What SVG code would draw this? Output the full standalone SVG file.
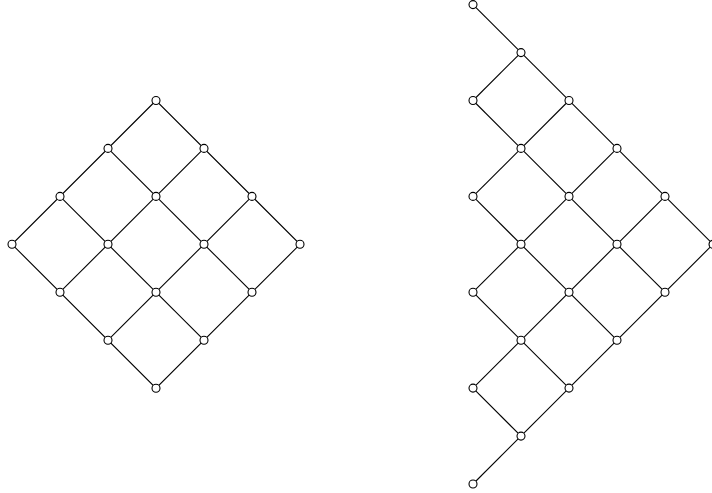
<svg xmlns="http://www.w3.org/2000/svg" width="712" height="493" viewBox="0 0 712 493">
<style>
.e{stroke:#000;stroke-width:1.1;fill:none}
.n{fill:#fff;stroke:#000;stroke-width:1.1}
</style>
<rect width="712" height="493" fill="#fff"/>
<g id="connectors" class="e">
<!-- left lattice -->
<path d="M156,100.5 L12,244.3 L156,388.2 L300,244.3 Z"/>
<path d="M204,148.4 L60,292.2"/>
<path d="M252,196.4 L108,340.2"/>
<path d="M108,148.4 L252,292.2"/>
<path d="M60,196.4 L204,340.2"/>
<!-- right lattice: down-right lines -->
<path d="M473,4.6 L713,244.3"/>
<path d="M473,100.5 L665,292.2"/>
<path d="M473,196.4 L617,340.2"/>
<path d="M473,292.2 L569,388.1"/>
<path d="M473,388.1 L521,436.1"/>
<!-- right lattice: down-left lines -->
<path d="M521,52.6 L473,100.5"/>
<path d="M569,100.5 L473,196.4"/>
<path d="M617,148.4 L473,292.2"/>
<path d="M665,196.4 L473,388.1"/>
<path d="M713,244.3 L473,484"/>
</g>
<g id="left-nodes" class="n">
<circle id="L1" cx="156" cy="100.5" r="4"/>
<circle id="L2" cx="108" cy="148.4" r="4"/>
<circle id="L3" cx="204" cy="148.4" r="4"/>
<circle id="L4" cx="60" cy="196.4" r="4"/>
<circle id="L5" cx="156" cy="196.4" r="4"/>
<circle id="L6" cx="252" cy="196.4" r="4"/>
<circle id="L7" cx="12" cy="244.3" r="4"/>
<circle id="L8" cx="108" cy="244.3" r="4"/>
<circle id="L9" cx="204" cy="244.3" r="4"/>
<circle id="L10" cx="300" cy="244.3" r="4"/>
<circle id="L11" cx="60" cy="292.2" r="4"/>
<circle id="L12" cx="156" cy="292.2" r="4"/>
<circle id="L13" cx="252" cy="292.2" r="4"/>
<circle id="L14" cx="108" cy="340.2" r="4"/>
<circle id="L15" cx="204" cy="340.2" r="4"/>
<circle id="L16" cx="156" cy="388.2" r="4"/>
</g>
<g id="right-nodes" class="n">
<circle id="R1" cx="473" cy="4.6" r="4"/>
<circle id="R2" cx="521" cy="52.6" r="4"/>
<circle id="R3" cx="473" cy="100.5" r="4"/>
<circle id="R4" cx="569" cy="100.5" r="4"/>
<circle id="R5" cx="521" cy="148.4" r="4"/>
<circle id="R6" cx="617" cy="148.4" r="4"/>
<circle id="R7" cx="473" cy="196.4" r="4"/>
<circle id="R8" cx="569" cy="196.4" r="4"/>
<circle id="R9" cx="665" cy="196.4" r="4"/>
<circle id="R10" cx="521" cy="244.3" r="4"/>
<circle id="R11" cx="617" cy="244.3" r="4"/>
<circle id="R12" cx="713" cy="244.3" r="4"/>
<circle id="R13" cx="473" cy="292.2" r="4"/>
<circle id="R14" cx="569" cy="292.2" r="4"/>
<circle id="R15" cx="665" cy="292.2" r="4"/>
<circle id="R16" cx="521" cy="340.2" r="4"/>
<circle id="R17" cx="617" cy="340.2" r="4"/>
<circle id="R18" cx="473" cy="388.1" r="4"/>
<circle id="R19" cx="569" cy="388.1" r="4"/>
<circle id="R20" cx="521" cy="436.1" r="4"/>
<circle id="R21" cx="473" cy="484" r="4"/>
</g>
</svg>
